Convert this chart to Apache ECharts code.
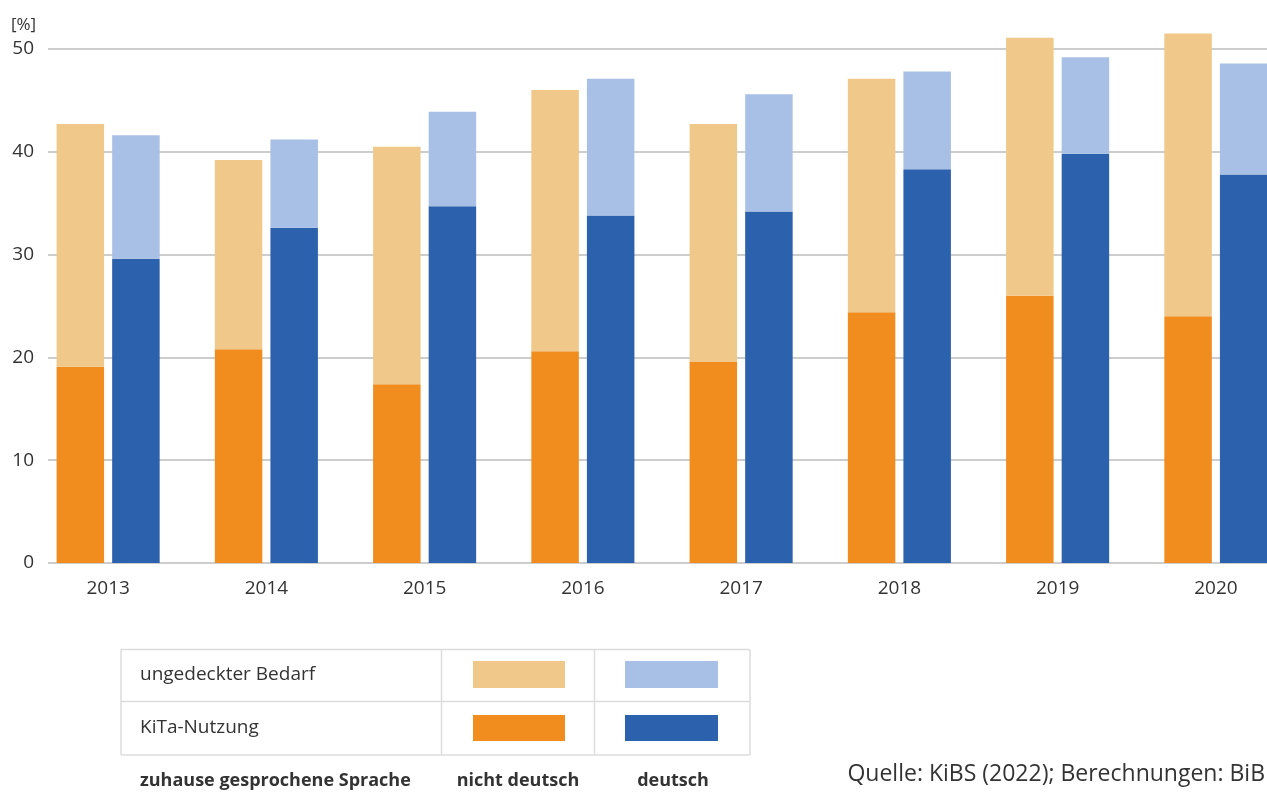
<!DOCTYPE html>
<html>
<head>
	<meta charset="utf-8"/>
	<title>KiTa-Nutzung und ungedeckter Bedarf</title>
	<style>
		* {
			margin: 0;
			padding: 0;
		}
		html, body {
			background: #fff;
			overflow: hidden;
		}
		/* etwas breiter als das Fenster: die letzte Balkengruppe ist rechts angeschnitten */
		.main {
			width: 1295px;
			height: 795px;
		}
	</style>
</head>
<body>

	<div id="main" class="main"></div>

	<script src="https://cdn.jsdelivr.net/npm/echarts@6.0.0/dist/echarts.min.js"></script>
	<script>
		var years = ['2013', '2014', '2015', '2016', '2017', '2018', '2019', '2020'];
		// KiTa-Nutzung (unten) und ungedeckter Bedarf (oben drauf), in %
		var nutzungNichtDeutsch = [19.1, 20.8, 17.4, 20.6, 19.6, 24.4, 26.0, 24.0];
		var bedarfNichtDeutsch = [23.6, 18.4, 23.1, 25.4, 23.1, 22.7, 25.1, 27.5];
		var nutzungDeutsch = [29.6, 32.6, 34.7, 33.8, 34.2, 38.3, 39.8, 37.8];
		var bedarfDeutsch = [12.0, 8.6, 9.2, 13.3, 11.4, 9.5, 9.4, 10.8];
		var yTicks = [0, 10, 20, 30, 40, 50];

		var orangeDark = '#f18c1f';
		var orangeLight = '#f0c889';
		var blueDark = '#2c62ad';
		var blueLight = '#a8c0e6';
		var textColor = '#333';
		var fontFamily = '"Open Sans", "Noto Sans", sans-serif';

		var myChart = echarts.init(document.getElementById('main'));

		function barSeries(name, stack, values, color) {
			return {
				name: name,
				type: 'bar',
				stack: stack,
				xAxisIndex: 1,
				yAxisIndex: 1,
				barWidth: 47.5,
				barGap: '17%',
				clip: false,
				itemStyle: { color: color },
				data: values
			};
		}

		function text(x, y, str, opts) {
			opts = opts || {};
			return {
				type: 'text',
				x: x,
				y: y,
				style: {
					text: str,
					fill: textColor,
					font: (opts.weight || 'normal') + ' ' + (opts.size || 19) + 'px ' + fontFamily,
					textAlign: opts.align || 'left',
					textVerticalAlign: 'middle'
				}
			};
		}

		function line(x1, y1, x2, y2) {
			return {
				type: 'line',
				shape: { x1: x1, y1: y1, x2: x2, y2: y2 },
				style: { stroke: '#dcdcdc', lineWidth: 1.5 }
			};
		}

		function swatch(x, y, w, h, color) {
			return {
				type: 'rect',
				shape: { x: x, y: y, width: w, height: h },
				style: { fill: color }
			};
		}

		var option = {
			animation: false,
			textStyle: { fontFamily: fontFamily },
			grid: [
				// Gitterlinien und y-Beschriftung (enden am Fensterrand bei 1267)
				{ left: 48, right: 28, top: 49, height: 514 },
				// Balken
				{ left: 29, right: 0, top: 49, height: 514 }
			],
			xAxis: [
				{ gridIndex: 0, type: 'value', show: false, min: 0, max: 1 },
				{
					gridIndex: 1,
					type: 'category',
					data: years,
					axisLine: { show: false },
					axisTick: { show: false },
					axisLabel: { color: textColor, fontSize: 19, margin: 16 }
				}
			],
			yAxis: [
				{
					gridIndex: 0,
					type: 'value',
					min: yTicks[0],
					max: yTicks[yTicks.length - 1],
					interval: 10,
					axisLine: { show: false },
					axisTick: { show: false },
					axisLabel: { color: textColor, fontSize: 19, margin: 14 },
					splitLine: { lineStyle: { color: '#bcbcbc', width: 1.5 } }
				},
				{
					gridIndex: 1,
					type: 'value',
					min: yTicks[0],
					max: yTicks[yTicks.length - 1],
					show: false,
					splitLine: { show: false }
				}
			],
			series: [
				barSeries('KiTa-Nutzung nicht deutsch', 'nd', nutzungNichtDeutsch, orangeDark),
				barSeries('ungedeckter Bedarf nicht deutsch', 'nd', bedarfNichtDeutsch, orangeLight),
				barSeries('KiTa-Nutzung deutsch', 'd', nutzungDeutsch, blueDark),
				barSeries('ungedeckter Bedarf deutsch', 'd', bedarfDeutsch, blueLight)
			],
			graphic: [
				text(11, 25, '[%]', { size: 17 }),

				// Legendentabelle
				line(121, 649.5, 750, 649.5),
				line(121, 701.5, 750, 701.5),
				line(121, 755, 750, 755),
				line(121, 649.5, 121, 755),
				line(441.5, 649.5, 441.5, 755),
				line(594.5, 649.5, 594.5, 755),
				line(750, 649.5, 750, 755),
				swatch(473, 661, 92, 27, orangeLight),
				swatch(625, 661, 93, 27, blueLight),
				swatch(473, 715, 92, 26, orangeDark),
				swatch(625, 715, 93, 26, blueDark),
				text(140, 675, 'ungedeckter Bedarf'),
				text(140, 728, 'KiTa-Nutzung'),
				text(140, 781, 'zuhause gesprochene Sprache', { weight: 'bold', size: 18 }),
				text(518, 781, 'nicht deutsch', { weight: 'bold', size: 18, align: 'center' }),
				text(673, 781, 'deutsch', { weight: 'bold', size: 18, align: 'center' }),

				text(1265, 774, 'Quelle: KiBS (2022); Berechnungen: BiB', { size: 23, align: 'right' })
			]
		};

		myChart.setOption(option);
	</script>
</body>
</html>
